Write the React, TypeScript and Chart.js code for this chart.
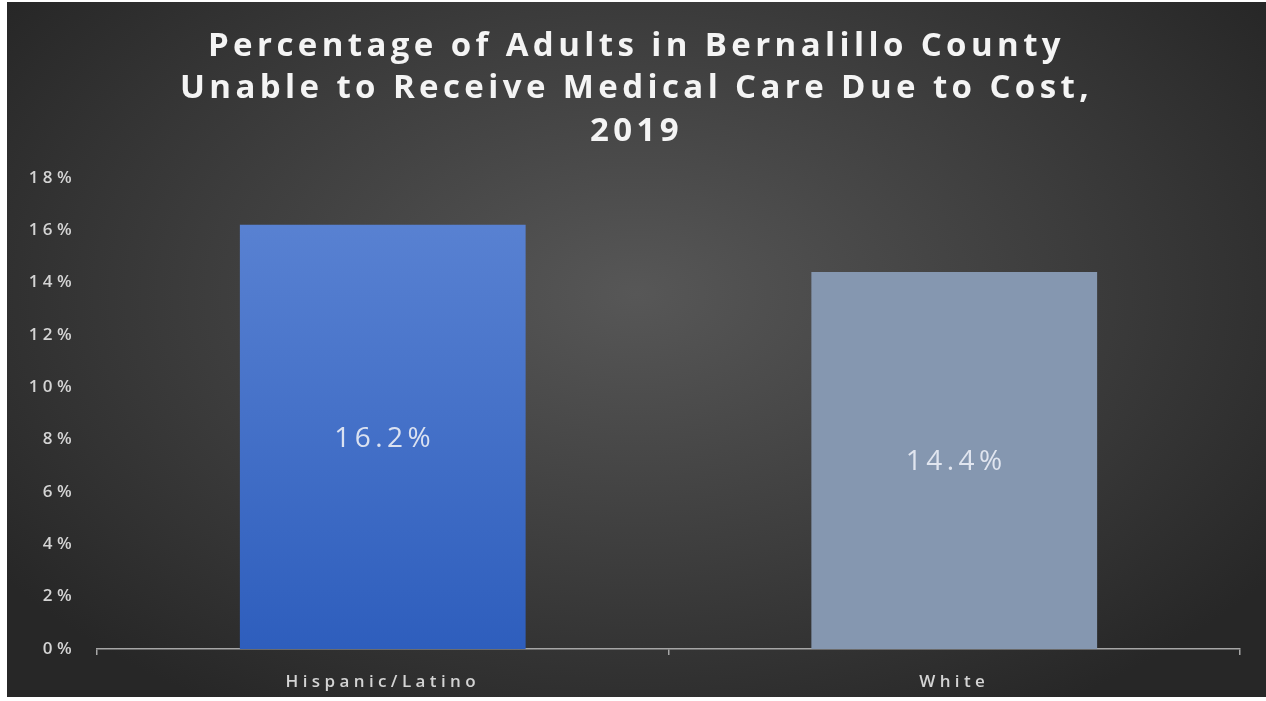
import React, { useEffect, useRef } from "react";
import { Chart, registerables } from "chart.js";

Chart.register(...registerables);

const categories = ["Hispanic/Latino", "White"];
const values = [16.2, 14.4];
const titleLines = [
  "Percentage of Adults in Bernalillo County",
  "Unable to Receive Medical Care Due to Cost,",
  "2019",
];
const yMin = 0;
const yMax = 18;
const yStep = 2;
const barColors = ["#4472c4", "#8597b0"];

export default function App() {
  const ref = useRef<HTMLCanvasElement>(null);

  useEffect(() => {
    const canvas = ref.current;
    if (!canvas) return;

    const spacingPlugin = {
      id: "spacing",
      beforeDraw(chart: any) {
        chart.ctx.letterSpacing = "4.4px";
      },
      afterDraw(chart: any) {
        chart.ctx.letterSpacing = "0px";
      },
    };

    const labelPlugin = {
      id: "barLabels",
      afterDatasetsDraw(chart: any) {
        const ctx = chart.ctx;
        const meta = chart.getDatasetMeta(0);
        ctx.save();
        ctx.letterSpacing = "4.5px";
        ctx.font = "400 28px 'Open Sans'";
        ctx.fillStyle = "rgba(232,236,244,0.92)";
        ctx.textAlign = "center";
        ctx.textBaseline = "middle";
        meta.data.forEach((bar: any, i: number) => {
          const p = bar.getProps(["x", "y", "base"], true);
          ctx.fillText(values[i].toFixed(1) + "%", p.x + 2, (p.y + p.base) / 2 + 2);
        });
        ctx.restore();
      },
    };

    const tickFont = { family: "'Open Sans'", size: 17, weight: "600" as any };

    const chart = new Chart(canvas, {
      type: "bar",
      data: {
        labels: categories,
        datasets: [
          {
            data: values,
            backgroundColor: (c: any) => {
              if (c.dataIndex === 0) {
                const area = c.chart.chartArea;
                if (!area) return barColors[0];
                const g = c.chart.ctx.createLinearGradient(0, area.top, 0, area.bottom);
                g.addColorStop(0, "#5d85d4");
                g.addColorStop(1, "#2e5ebd");
                return g;
              }
              return barColors[1];
            },
            borderWidth: 0,
            barPercentage: 1,
            categoryPercentage: 0.5,
          },
        ],
      },
      options: {
        animation: false,
        responsive: true,
        maintainAspectRatio: false,
        layout: { padding: { top: 0, right: 0, left: 0, bottom: 0 } },
        plugins: {
          legend: { display: false },
          tooltip: { enabled: false },
          title: {
            display: true,
            text: titleLines,
            color: "#f4f4f4",
            font: { family: "'Open Sans'", size: 33, weight: "bold", lineHeight: 1.29 },
            padding: { top: 23, bottom: 25 },
          },
        },
        scales: {
          x: {
            grid: {
              display: true,
              drawOnChartArea: false,
              drawTicks: true,
              tickLength: 6,
              color: "#a6a6a6",
              lineWidth: 1.5,
              offset: true,
            },
            border: { display: true, color: "#a6a6a6", width: 1.5 },
            ticks: { color: "#d4d4d4", font: tickFont, padding: 17 },
            afterFit: (s: any) => {
              s.height = 48;
            },
          },
          y: {
            min: yMin,
            max: yMax,
            grid: { display: false, drawTicks: false },
            border: { display: false },
            ticks: {
              stepSize: yStep,
              color: "#d4d4d4",
              font: tickFont,
              padding: 21,
              callback: (v: any) => v + "%",
            },
            afterFit: (s: any) => {
              s.width = 90;
            },
          },
          yRight: {
            position: "right",
            display: true,
            grid: { display: false, drawTicks: false },
            border: { display: false },
            ticks: { display: false },
            afterFit: (s: any) => {
              s.width = 26;
            },
          },
        },
      },
      plugins: [spacingPlugin, labelPlugin],
    });

    return () => chart.destroy();
  }, []);

  return (
    <div
      style={{
        position: "absolute",
        left: 7,
        top: 2,
        width: 1259,
        height: 695,
        background:
          "radial-gradient(ellipse 62% 70% at 50% 42%, #575757 0%, #3d3d3d 55%, #272727 100%)",
      }}
    >
      <canvas ref={ref} />
    </div>
  );
}
